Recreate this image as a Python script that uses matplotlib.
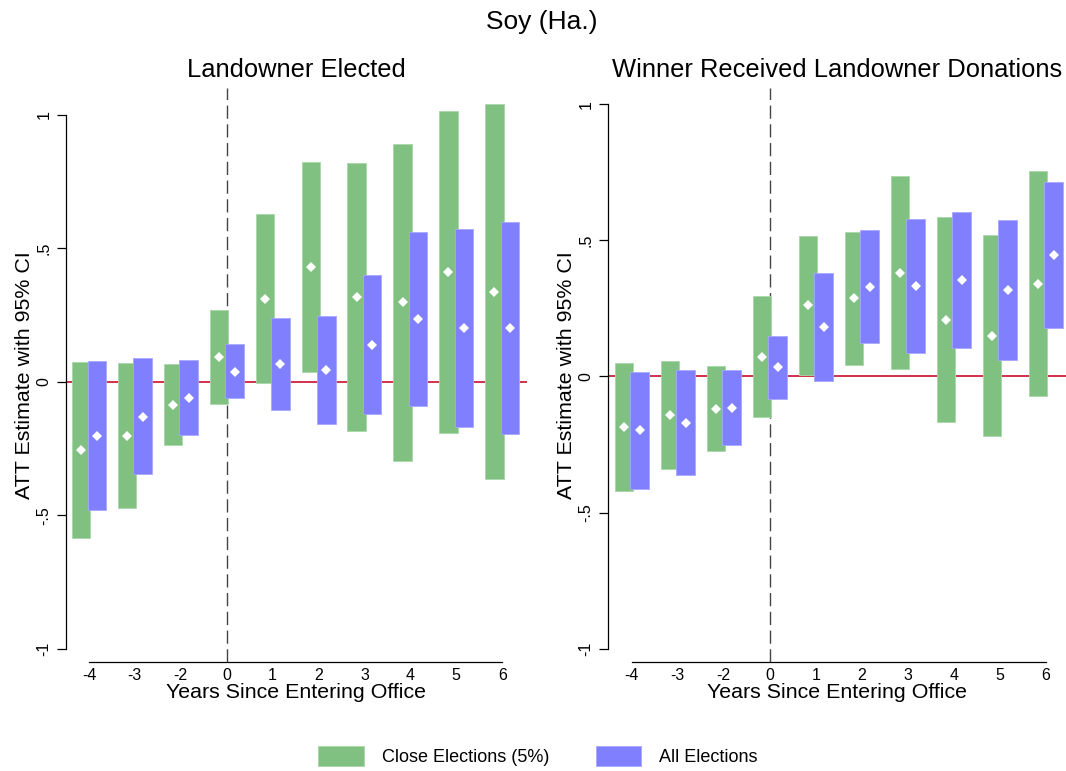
import matplotlib
matplotlib.use("Agg")
import matplotlib.pyplot as plt
from matplotlib.patches import Patch
import numpy as np

plt.rcParams['font.family'] = ['Liberation Sans', 'DejaVu Sans']

# ---- data ----
tick_labels = ['-4', '-3', '-2', '0', '1', '2', '3', '4', '5', '6']

# Panel 1: Landowner Elected
p1_close_est = [-0.255, -0.201, -0.085, 0.094, 0.312, 0.432, 0.317, 0.298, 0.412, 0.338]
p1_close_lo  = [-0.585, -0.474, -0.238, -0.082, -0.005, 0.039, -0.185, -0.295, -0.191, -0.365]
p1_close_hi  = [0.075, 0.072, 0.067, 0.270, 0.628, 0.824, 0.820, 0.891, 1.016, 1.040]
p1_all_est   = [-0.201, -0.130, -0.059, 0.039, 0.067, 0.046, 0.139, 0.235, 0.203, 0.203]
p1_all_lo    = [-0.481, -0.346, -0.200, -0.061, -0.106, -0.159, -0.121, -0.091, -0.167, -0.194]
p1_all_hi    = [0.079, 0.089, 0.081, 0.141, 0.240, 0.248, 0.400, 0.561, 0.573, 0.599]

# Panel 2: Winner Received Landowner Donations
p2_close_est = [-0.184, -0.143, -0.118, 0.072, 0.261, 0.287, 0.381, 0.207, 0.150, 0.341]
p2_close_lo  = [-0.419, -0.341, -0.272, -0.150, 0.005, 0.043, 0.026, -0.168, -0.217, -0.072]
p2_close_hi  = [0.051, 0.057, 0.039, 0.294, 0.517, 0.530, 0.737, 0.584, 0.518, 0.754]
p2_all_est   = [-0.198, -0.169, -0.114, 0.034, 0.180, 0.328, 0.333, 0.353, 0.319, 0.445]
p2_all_lo    = [-0.412, -0.361, -0.251, -0.081, -0.018, 0.122, 0.087, 0.103, 0.062, 0.177]
p2_all_hi    = [0.017, 0.024, 0.024, 0.149, 0.380, 0.536, 0.579, 0.602, 0.574, 0.714]

yticks = [-1, -0.5, 0, 0.5, 1]
ytick_labels = ['-1', '-.5', '0', '.5', '1']

GREEN = '#80c080'
BLUE = '#8080ff'
GREEN_E = '#a8d8a8'
BLUE_E = '#a8a8ff'
RED = '#c8102e'

W, H = 1066, 771
fig = plt.figure(figsize=(W / 100, H / 100), dpi=100)
fig.patch.set_facecolor('white')


def fx(px):
    return px / W


def fy(py):
    return 1 - py / H


def panel(left_px, right_px, xlim, ylim, close, allel, title, ylab_x):
    ax = fig.add_axes([fx(left_px), fy(662), fx(right_px - left_px), (662 - 88) / H])
    x = np.arange(len(tick_labels))
    c_est, c_lo, c_hi = close
    a_est, a_lo, a_hi = allel
    off, bw = 0.17, 0.40
    ax.axhline(0, color=RED, lw=1.2, zorder=1)
    ax.axvline(3, color='#444444', lw=1.0, dashes=(9.5, 4.0), zorder=1)
    ax.bar(x - off, np.array(c_hi) - np.array(c_lo), bottom=c_lo, width=bw,
           color=GREEN, edgecolor=GREEN_E, linewidth=0.6, zorder=2)
    ax.bar(x + off, np.array(a_hi) - np.array(a_lo), bottom=a_lo, width=bw,
           color=BLUE, edgecolor=BLUE_E, linewidth=0.6, zorder=3)
    ax.plot(x - off, c_est, 'D', color='white', ms=4.7, mew=0, ls='none', zorder=4)
    ax.plot(x + off, a_est, 'D', color='white', ms=4.7, mew=0, ls='none', zorder=4)
    ax.set_xlim(*xlim)
    ax.set_ylim(*ylim)
    for s in ['top', 'right']:
        ax.spines[s].set_visible(False)
    ax.spines['left'].set_bounds(-1, 1)
    ax.spines['bottom'].set_bounds(0, 9)
    ax.spines['left'].set_linewidth(0.9)
    ax.spines['bottom'].set_linewidth(0.9)
    ax.set_xticks(x)
    ax.set_xticklabels(tick_labels, fontsize=11.5)
    ax.tick_params(axis='x', length=0, pad=4)
    ax.set_yticks(yticks)
    ax.set_yticklabels(ytick_labels, fontsize=11.5, rotation=90, va='center')
    ax.tick_params(axis='y', length=6.5, width=0.9, pad=4)
    ax.set_facecolor('none')
    cx = (left_px + right_px) / 2
    fig.text(fx(cx), fy(70), title, ha='center', va='center', fontsize=18.4)
    fig.text(fx(cx), fy(692), 'Years Since Entering Office', ha='center', va='center', fontsize=15.4)
    fig.text(fx(ylab_x), fy(375), 'ATT Estimate with 95% CI', ha='center', va='center',
             rotation=90, fontsize=15.4)
    return ax


panel(66, 527, (-0.50, 9.54), (-1.049, 1.101),
      (p1_close_est, p1_close_lo, p1_close_hi), (p1_all_est, p1_all_lo, p1_all_hi),
      'Landowner Elected', 25)
panel(608, 1066, (-0.515, 9.44), (-1.048, 1.059),
      (p2_close_est, p2_close_lo, p2_close_hi), (p2_all_est, p2_all_lo, p2_all_hi),
      'Winner Received Landowner Donations', 566)

fig.text(fx(542), fy(22), 'Soy (Ha.)', ha='center', va='center', fontsize=19)

handles = [Patch(facecolor=GREEN, edgecolor=GREEN_E, lw=0.6, label='Close Elections (5%)'),
           Patch(facecolor=BLUE, edgecolor=BLUE_E, lw=0.6, label='All Elections')]
fig.legend(handles=handles, loc='center', bbox_to_anchor=(fx(538), fy(756)), ncol=2,
           frameon=False, fontsize=13, handlelength=2.5, handleheight=1.35,
           handletextpad=1.0, columnspacing=2.6)

fig.savefig('out.png', dpi=100)
